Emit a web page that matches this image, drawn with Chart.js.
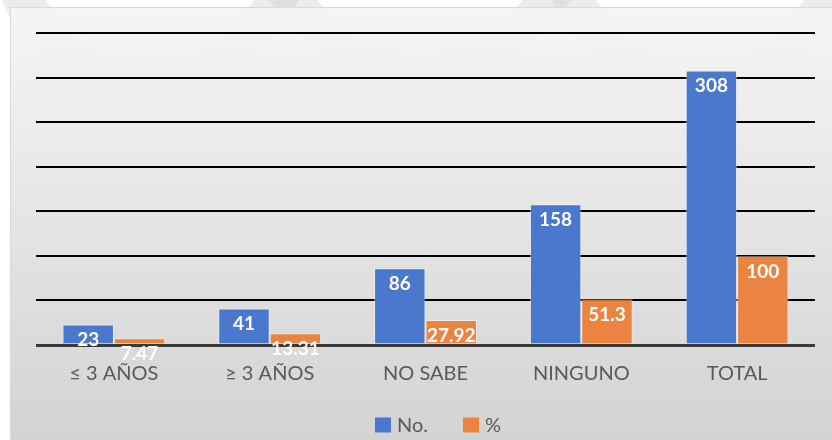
<!DOCTYPE html>
<html><head><meta charset="utf-8">
<script src="https://cdn.jsdelivr.net/npm/chart.js@4.4.1/dist/chart.umd.min.js"></script>
<style>html,body{margin:0;padding:0;background:#fff;}#wrap{width:832px;height:440px;}</style>
</head><body><div id="wrap"><canvas id="c" width="832" height="440"></canvas></div>
<script>
const categories = ["≤ 3 AÑOS", "≥ 3 AÑOS", "NO SABE", "NINGUNO", "TOTAL"];
const countValues = [23, 41, 86, 158, 308];
const percentValues = [7.47, 13.31, 27.92, 51.3, 100];
const seriesNames = ["No.", "%"];
const labelTexts = [["23","41","86","158","308"],["7.47","13.31","27.92","51.3","100"]];
const seriesColors = ['#4A78CC', '#EC8441'];

const bgPlugin = {
  id: 'bg',
  beforeDraw(chart) {
    const ctx = chart.ctx;
    ctx.save();
    ctx.fillStyle = '#ffffff';
    ctx.fillRect(0, 0, chart.width, chart.height);
    ctx.strokeStyle = 'rgba(200,200,200,0.35)';
    ctx.lineWidth = 40;
    [[150,-60,140],[420,-80,150],[700,-60,140]].forEach(a=>{
      ctx.beginPath(); ctx.arc(a[0], a[1], a[2], 0, Math.PI); ctx.stroke();
    });
    const g = ctx.createLinearGradient(0, 7, 0, 440);
    g.addColorStop(0, 'rgba(245,245,245,0.97)');
    g.addColorStop(0.5, 'rgba(228,228,228,0.98)');
    g.addColorStop(1, 'rgba(211,211,211,1)');
    ctx.fillStyle = g;
    ctx.fillRect(10, 7, 822, 433);
    ctx.strokeStyle = '#d9d9d9';
    ctx.lineWidth = 1;
    ctx.strokeRect(10.5, 7.5, 822, 433);
    ctx.restore();
  }
};

const labelPlugin = {
  id: 'lbl',
  afterDatasetsDraw(chart) {
    const ctx = chart.ctx;
    ctx.save();
    ctx.fillStyle = '#ffffff';
    ctx.font = 'bold 19px Lato, sans-serif';
    ctx.textAlign = 'center';
    ctx.textBaseline = 'alphabetic';
    chart.data.datasets.forEach((ds, di) => {
      chart.getDatasetMeta(di).data.forEach((bar, i) => {
        ctx.fillText(labelTexts[di][i], bar.x, bar.y + 22);
      });
    });
    ctx.restore();
  },
  afterDraw(chart) {
    const ctx = chart.ctx;
    ctx.save();
    ctx.font = '20px Lato, sans-serif';
    ctx.textBaseline = 'middle';
    ctx.textAlign = 'left';
    const box = 16, gap = 6, spacing = 35, cy = 425, center = 438;
    const items = chart.data.datasets.map(d => ({ t: d.label, c: d.backgroundColor, w: ctx.measureText(d.label).width }));
    let total = 0;
    items.forEach((it, i) => { total += box + gap + it.w + (i ? spacing : 0); });
    let x = center - total / 2;
    items.forEach((it, i) => {
      if (i) x += spacing;
      ctx.fillStyle = it.c;
      ctx.fillRect(x, cy - 7.5, box, 15);
      x += box + gap;
      ctx.fillStyle = '#595959';
      ctx.fillText(it.t, x, cy + 1);
      x += it.w;
    });
    ctx.restore();
  }
};

new Chart(document.getElementById('c'), {
  type: 'bar',
  data: {
    labels: categories,
    datasets: [
      { label: seriesNames[0], data: countValues, backgroundColor: seriesColors[0], borderColor: 'rgba(255,255,255,0.45)', borderWidth: 1, categoryPercentage: 0.66, barPercentage: 1 },
      { label: seriesNames[1], data: percentValues, backgroundColor: seriesColors[1], borderColor: 'rgba(255,255,255,0.45)', borderWidth: 1, categoryPercentage: 0.66, barPercentage: 1 }
    ]
  },
  options: {
    responsive: false,
    animation: false,
    layout: { padding: { left: 36, right: 17, top: 33, bottom: 37 } },
    plugins: {
      tooltip: { enabled: false },
      legend: { display: false }
    },
    scales: {
      x: {
        grid: { display: false, drawTicks: false },
        border: { display: false },
        ticks: { color: '#595959', font: { family: 'Lato, sans-serif', size: 20, weight: 400 }, padding: 17 }
      },
      y: {
        min: 0, max: 350,
        ticks: { display: false, stepSize: 50 },
        border: { display: false },
        grid: {
          drawTicks: false,
          color: ctx => ctx.tick && ctx.tick.value === 0 ? '#3a3a3a' : '#000000',
          lineWidth: ctx => ctx.tick && ctx.tick.value === 0 ? 3 : 2
        }
      }
    }
  },
  plugins: [bgPlugin, labelPlugin]
});
</script></body></html>
